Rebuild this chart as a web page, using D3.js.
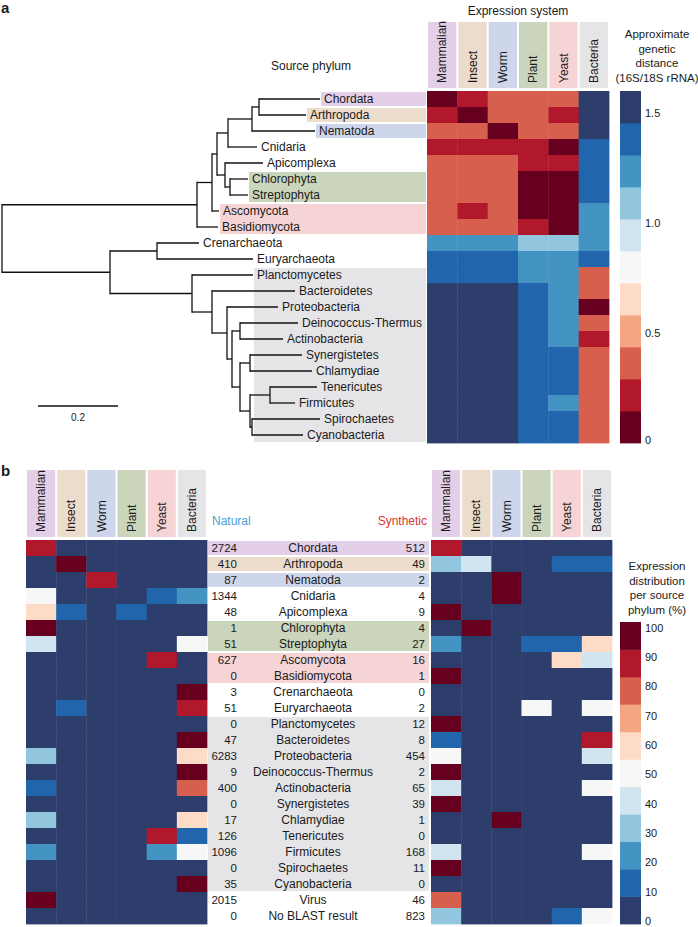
<!DOCTYPE html>
<html>
<head>
<meta charset="utf-8">
<title>Expression system vs source phylum</title>
<style>
  body { margin: 0; background: #fff; }
  text { font-family: "Liberation Sans", Arial, Helvetica, sans-serif; fill: #1a1a1a; }
</style>
</head>
<body>
<script src="https://cdnjs.cloudflare.com/ajax/libs/d3/7.9.0/d3.min.js"></script>
<script>

const systems = ["Mammalian", "Insect", "Worm", "Plant", "Yeast", "Bacteria"];

const phyla = ["Chordata", "Arthropoda", "Nematoda", "Cnidaria", "Apicomplexa", "Chlorophyta",
  "Streptophyta", "Ascomycota", "Basidiomycota", "Crenarchaeota", "Euryarchaeota", "Planctomycetes",
  "Bacteroidetes", "Proteobacteria", "Deinococcus-Thermus", "Actinobacteria", "Synergistetes",
  "Chlamydiae", "Tenericutes", "Firmicutes", "Spirochaetes", "Cyanobacteria"];

const extraRows = ["Virus", "No BLAST result"];

// source phylum tree, branch lengths in 16S/18S distance units
const newick = "(((((((Chordata:0.1525,Arthropoda:0.1175):0.0175,Nematoda:0.1575):0.06,Cnidaria:0.0725):0.0275," +
  "(Apicomplexa:0.095,(Chlorophyta:0.045,Streptophyta:0.045):0.0125):0.02):0.0125,Ascomycota:0.0175):0.0375," +
  "Basidiomycota:0.0525):0.4875,((Crenarchaeota:0.105,Euryarchaeota:0.24):0.1175,(Planctomycetes:0.1525," +
  "(Bacteroidetes:0.2075,(Proteobacteria:0.1275,((Deinococcus-Thermus:0.145,Actinobacteria:0.1075):0.02," +
  "((Synergistetes:0.13,Chlamydiae:0.155):0.025,((Tenericutes:0.1175,Firmicutes:0.0625):0.05," +
  "(Spirochaetes:0.17,Cyanobacteria:0.1275):0.005):0.025):0.02):0.0125):0.0375):0.05):0.205):0.27);";

// approximate genetic distance, phylum x expression system
const distance = [
  [0.05, 0.2, 0.35, 0.35, 0.35, 1.55],
  [0.2, 0.05, 0.35, 0.35, 0.2, 1.55],
  [0.35, 0.35, 0.05, 0.35, 0.35, 1.55],
  [0.2, 0.2, 0.2, 0.2, 0.05, 1.35],
  [0.35, 0.35, 0.35, 0.2, 0.2, 1.35],
  [0.35, 0.35, 0.35, 0.05, 0.05, 1.35],
  [0.35, 0.35, 0.35, 0.05, 0.05, 1.35],
  [0.35, 0.2, 0.35, 0.05, 0.05, 1.2],
  [0.35, 0.35, 0.35, 0.2, 0.05, 1.2],
  [1.2, 1.2, 1.2, 1.05, 1.05, 1.2],
  [1.35, 1.35, 1.35, 1.2, 1.2, 1.35],
  [1.35, 1.35, 1.35, 1.2, 1.2, 0.35],
  [1.55, 1.55, 1.55, 1.35, 1.2, 0.35],
  [1.55, 1.55, 1.55, 1.35, 1.2, 0.05],
  [1.55, 1.55, 1.55, 1.35, 1.2, 0.35],
  [1.55, 1.55, 1.55, 1.35, 1.2, 0.2],
  [1.55, 1.55, 1.55, 1.35, 1.35, 0.35],
  [1.55, 1.55, 1.55, 1.35, 1.35, 0.35],
  [1.55, 1.55, 1.55, 1.35, 1.35, 0.35],
  [1.55, 1.55, 1.55, 1.35, 1.2, 0.35],
  [1.55, 1.55, 1.55, 1.35, 1.35, 0.35],
  [1.55, 1.55, 1.55, 1.35, 1.35, 0.35]
];

const naturalCounts = [2724, 410, 87, 1344, 48, 1, 51, 627, 0, 3, 51, 0, 47, 6283, 9, 400, 0, 17, 126, 1096, 0, 35, 2015, 0];
const syntheticCounts = [512, 49, 2, 4, 9, 4, 27, 16, 1, 0, 2, 12, 8, 454, 2, 65, 39, 1, 0, 168, 11, 0, 46, 823];

// expression distribution per source phylum (%), rows = phyla + extra rows
const naturalPct = [
  [86, 3, 1, 1, 3, 6], [1, 95, 1, 1, 1, 1], [5, 3, 86, 1, 2, 3], [50, 5, 3, 5, 14, 23],
  [58, 15, 4, 15, 4, 4], [100, 0, 0, 0, 0, 0], [41, 2, 2, 2, 2, 51], [6, 1, 1, 2, 86, 4],
  [0, 0, 0, 0, 0, 0], [0, 0, 0, 0, 0, 100], [2, 14, 0, 0, 0, 84], [0, 0, 0, 0, 0, 0],
  [2, 0, 0, 0, 2, 96], [32, 1, 1, 1, 4, 61], [0, 0, 0, 0, 0, 100], [15, 1, 1, 1, 5, 77],
  [0, 0, 0, 0, 0, 0], [35, 0, 0, 0, 6, 59], [1, 0, 0, 0, 86, 13], [23, 1, 1, 1, 24, 50],
  [0, 0, 0, 0, 0, 0], [3, 0, 0, 0, 3, 94], [96, 1, 1, 0, 1, 1], [0, 0, 0, 0, 0, 0]
];
const syntheticPct = [
  [86, 2, 1, 1, 4, 6], [31, 41, 0, 0, 14, 14], [0, 0, 100, 0, 0, 0], [0, 0, 100, 0, 0, 0],
  [100, 0, 0, 0, 0, 0], [0, 100, 0, 0, 0, 0], [22, 0, 0, 11, 11, 56], [6, 0, 0, 0, 56, 38],
  [100, 0, 0, 0, 0, 0], [0, 0, 0, 0, 0, 0], [0, 0, 0, 50, 0, 50], [100, 0, 0, 0, 0, 0],
  [12, 0, 0, 0, 0, 88], [50, 1, 1, 1, 4, 43], [100, 0, 0, 0, 0, 0], [40, 2, 2, 2, 4, 50],
  [100, 0, 0, 0, 0, 0], [0, 0, 100, 0, 0, 0], [0, 0, 0, 0, 0, 0], [40, 1, 1, 2, 6, 50],
  [100, 0, 0, 0, 0, 0], [0, 0, 0, 0, 0, 0], [78, 3, 3, 3, 6, 7], [32, 2, 2, 2, 14, 48]
];

// which phyla are highlighted with each expression system's colour
const highlightGroups = [
  ["Mammalian", ["Chordata"]],
  ["Insect", ["Arthropoda"]],
  ["Worm", ["Nematoda"]],
  ["Plant", ["Chlorophyta", "Streptophyta"]],
  ["Yeast", ["Ascomycota", "Basidiomycota"]],
  ["Bacteria", ["Planctomycetes", "Cyanobacteria"]]
];

const distTicks = [0, 0.5, 1.0, 1.5];
const pctTicks = [0, 10, 20, 30, 40, 50, 60, 70, 80, 90, 100];

const systemColor = d3.scaleOrdinal()
  .domain(systems)
  .range(["#e3cfe7", "#ecdccb", "#cdd6ea", "#cad5bc", "#f6d4d5", "#e5e5e8"]);

const palette = d3.schemeRdBu[11].slice(0, 10).concat(["#2d3d6c"]);
const distColor = d3.scaleQuantize().domain([0, 1.6]).range(palette);
const pctColor = d3.scaleQuantize().domain([0, 100]).range(palette.slice().reverse());

const svg = d3.select("body").append("svg")
  .attr("width", 698)
  .attr("height", 927);

// ---------- panel a ----------
svg.append("text").attr("x", 1).attr("y", 13)
  .attr("font-size", "15px").attr("font-weight", "bold").text("a");

svg.append("text").attr("x", 518).attr("y", 15)
  .attr("text-anchor", "middle").attr("font-size", "12px").text("Expression system");

svg.append("text").attr("x", 311).attr("y", 70)
  .attr("text-anchor", "middle").attr("font-size", "12px").text("Source phylum");

const xTop = d3.scaleBand().domain(systems).range([427, 609]);
const yTop = d3.scaleBand().domain(phyla).range([91, 443]);
const xTree = d3.scaleLinear().domain([0, 1]).range([2, 402]);

function parseNewick(s) {
  let i = 0;
  function node() {
    const n = {name: "", children: []};
    if (s[i] === "(") {
      i++;
      n.children.push(node());
      while (s[i] === ",") { i++; n.children.push(node()); }
      i++;
    }
    while (i < s.length && !":,();".includes(s[i])) n.name += s[i++];
    if (s[i] === ":") {
      i++;
      let num = "";
      while (i < s.length && !",();".includes(s[i])) num += s[i++];
      n.length = +num;
    }
    return n;
  }
  return node();
}

const root = d3.hierarchy(parseNewick(newick));
root.eachBefore(d => { d.dist = (d.parent ? d.parent.dist : 0) + (d.data.length || 0); });
root.eachAfter(d => {
  if (d.children) d.ypos = (d.children[0].ypos + d.children[d.children.length - 1].ypos) / 2;
  else d.ypos = yTop(d.data.name) + yTop.bandwidth() / 2;
});
const tipX = {};
root.leaves().forEach(d => { tipX[d.data.name] = xTree(d.dist); });

// highlight bands behind labels
const gBands = svg.append("g");
highlightGroups.forEach(([sys, ps]) => {
  const first = ps[0], last = ps[ps.length - 1];
  gBands.append("rect")
    .attr("x", tipX[first] + 1)
    .attr("y", yTop(first) + 1)
    .attr("width", 426 - tipX[first] - 1)
    .attr("height", yTop(last) + yTop.bandwidth() - yTop(first) - 2)
    .attr("fill", systemColor(sys));
});

const gTree = svg.append("g")
  .attr("stroke", "#111").attr("stroke-width", 1.3).attr("fill", "none");

root.descendants().forEach(d => {
  if (d.parent) {
    gTree.append("line")
      .attr("x1", xTree(d.parent.dist)).attr("x2", xTree(d.dist))
      .attr("y1", d.ypos).attr("y2", d.ypos);
  }
  if (d.children) {
    gTree.append("line")
      .attr("x1", xTree(d.dist)).attr("x2", xTree(d.dist))
      .attr("y1", d.children[0].ypos - 0.65)
      .attr("y2", d.children[d.children.length - 1].ypos + 0.65);
  }
});

svg.append("g").selectAll("text")
  .data(root.leaves())
  .join("text")
  .attr("x", d => xTree(d.dist) + 4)
  .attr("y", d => d.ypos)
  .attr("dy", "0.35em")
  .attr("font-size", "12px")
  .text(d => d.data.name);

// scale bar
svg.append("line")
  .attr("x1", 38).attr("x2", 38 + xTree(0.2) - xTree(0))
  .attr("y1", 406).attr("y2", 406)
  .attr("stroke", "#111").attr("stroke-width", 1.3);
svg.append("text")
  .attr("x", 38 + (xTree(0.2) - xTree(0)) / 2).attr("y", 421)
  .attr("text-anchor", "middle").attr("font-size", "10px").text("0.2");

// column headers
function headers(xScale, yTopEdge, yBottomEdge) {
  const g = svg.append("g");
  g.selectAll("rect")
    .data(systems)
    .join("rect")
    .attr("x", d => xScale(d) + 1)
    .attr("y", yTopEdge)
    .attr("width", xScale.bandwidth() - 2)
    .attr("height", yBottomEdge - yTopEdge)
    .attr("fill", d => systemColor(d));
  g.selectAll("text")
    .data(systems)
    .join("text")
    .attr("transform", d => `translate(${xScale(d) + xScale.bandwidth() / 2},${yBottomEdge - 5}) rotate(-90)`)
    .attr("dy", "0.35em")
    .attr("font-size", "12px")
    .text(d => d);
}
headers(xTop, 22, 88);

// heatmap
const gTopHeat = svg.append("g");
phyla.forEach((p, i) => {
  systems.forEach((s, j) => {
    gTopHeat.append("rect")
      .attr("x", xTop(s)).attr("y", yTop(p))
      .attr("width", xTop.bandwidth() + 0.4).attr("height", yTop.bandwidth() + 0.4)
      .attr("fill", distColor(distance[i][j]));
  });
});

// colour bar legend
function colourBar(colour, y0, y1, labelScale, ticks, fmt, title, titleY) {
  const g = svg.append("g");
  const n = colour.range().length;
  const segH = (y1 - y0) / n;
  colour.range().forEach((c, k) => {
    g.append("rect")
      .attr("x", 620).attr("y", y1 - (k + 1) * segH)
      .attr("width", 21).attr("height", segH + 0.4)
      .attr("fill", c);
  });
  g.selectAll("text.tick")
    .data(ticks)
    .join("text")
    .attr("class", "tick")
    .attr("x", 645).attr("y", d => Math.min(labelScale(d), y1 - 3))
    .attr("dy", "0.35em").attr("font-size", "11px")
    .text(fmt);
  title.forEach((t, k) => {
    g.append("text")
      .attr("x", 657).attr("y", titleY + k * 14.5)
      .attr("text-anchor", "middle").attr("font-size", "11.5px").text(t);
  });
}
colourBar(distColor, 91, 443,
  d3.scaleLinear().domain([0, 1.6]).range([443, 91]), distTicks,
  d => d === 0 ? "0" : d3.format(".1f")(d),
  ["Approximate", "genetic", "distance", "(16S/18S rRNA)"], 38);

// ---------- panel b ----------
svg.append("text").attr("x", 1).attr("y", 476)
  .attr("font-size", "15px").attr("font-weight", "bold").text("b");

const rows = phyla.concat(extraRows);
const xL = d3.scaleBand().domain(systems).range([26, 207]);
const xR = d3.scaleBand().domain(systems).range([431, 612]);
const yB = d3.scaleBand().domain(rows).range([540, 924]);

headers(xL, 470, 537);
headers(xR, 470, 537);

function pctHeat(xScale, values) {
  const g = svg.append("g");
  rows.forEach((r, i) => {
    systems.forEach((s, j) => {
      g.append("rect")
        .attr("x", xScale(s)).attr("y", yB(r))
        .attr("width", xScale.bandwidth() + 0.4).attr("height", yB.bandwidth() + 0.4)
        .attr("fill", pctColor(values[i][j]));
    });
  });
}
pctHeat(xL, naturalPct);
pctHeat(xR, syntheticPct);

// middle table bands
highlightGroups.forEach(([sys, ps]) => {
  const first = ps[0], last = ps[ps.length - 1];
  svg.append("rect")
    .attr("x", 208).attr("y", yB(first) + 1)
    .attr("width", 221)
    .attr("height", yB(last) + yB.bandwidth() - yB(first) - 2)
    .attr("fill", systemColor(sys));
});

svg.append("text").attr("x", 212).attr("y", 525)
  .attr("font-size", "12px").style("fill", "#4a9fd5").text("Natural");
svg.append("text").attr("x", 427).attr("y", 525).attr("text-anchor", "end")
  .attr("font-size", "12px").style("fill", "#d7372f").text("Synthetic");

const gTable = svg.append("g").attr("font-size", "11.5px");
rows.forEach((r, i) => {
  const cy = yB(r) + yB.bandwidth() / 2;
  gTable.append("text").attr("x", 237).attr("y", cy).attr("dy", "0.35em")
    .attr("text-anchor", "end").text(naturalCounts[i]);
  gTable.append("text").attr("x", 313).attr("y", cy).attr("dy", "0.35em")
    .attr("text-anchor", "middle").attr("font-size", "12px").text(r);
  gTable.append("text").attr("x", 425).attr("y", cy).attr("dy", "0.35em")
    .attr("text-anchor", "end").text(syntheticCounts[i]);
});

colourBar(pctColor, 622, 924,
  d3.scaleLinear().domain([0, 100]).range([921, 628]), pctTicks, d => d,
  ["Expression", "distribution", "per source", "phylum (%)"], 570);

</script>
</body>
</html>
